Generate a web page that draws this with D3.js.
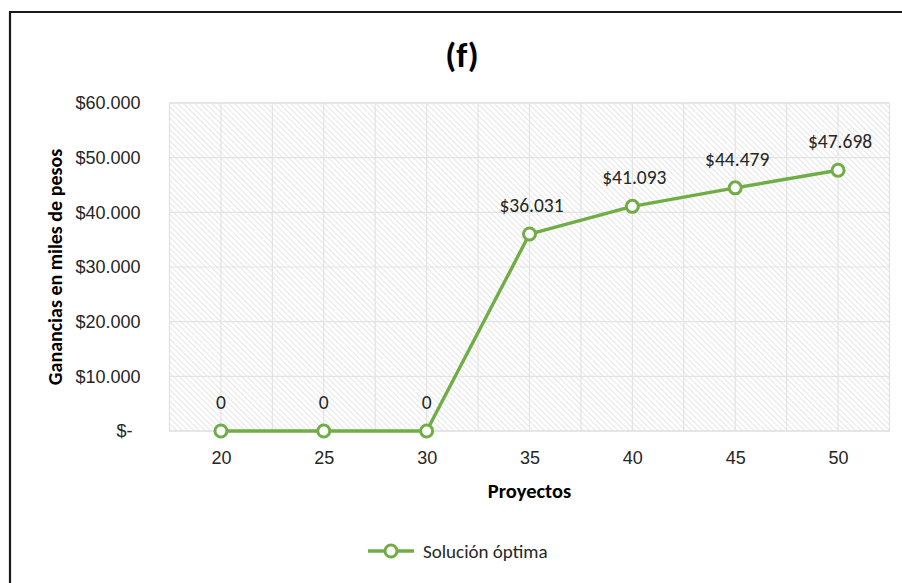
<!DOCTYPE html>
<html><head><meta charset="utf-8">
<script src="https://cdn.jsdelivr.net/npm/d3@7"></script>
<style>
body{margin:0;background:#fff;}
svg{display:block;font-family:Carlito, Calibri, Lato, "Open Sans", sans-serif;}
</style></head>
<body>
<svg id="chart" width="902" height="583"></svg>
<script>
const categories = [20, 25, 30, 35, 40, 45, 50];
const values = [0, 0, 0, 36031, 41093, 44479, 47698];
const dataLabels = ["0", "0", "0", "$36.031", "$41.093", "$44.479", "$47.698"];
const yTicks = [0, 10000, 20000, 30000, 40000, 50000, 60000];
const yTickLabels = ["$-", "$10.000", "$20.000", "$30.000", "$40.000", "$50.000", "$60.000"];
const seriesName = "Solución óptima";

(function () {
const svg = d3.select("#chart");
const green = "#70ad47";
const pLeft = 169.5, pRight = 889.5, pTop = 103, pBottom = 431;

// frame
svg.append("path").attr("d", "M10,583 L10,12 L902,12").attr("fill", "none").attr("stroke", "#1a1a1a").attr("stroke-width", 2.2);

const defs = svg.append("defs");
const pat = defs.append("pattern").attr("id", "hatch").attr("patternUnits", "userSpaceOnUse")
  .attr("width", 4).attr("height", 4).attr("patternTransform", "rotate(-45)");
pat.append("rect").attr("width", 4).attr("height", 4).attr("fill", "#ffffff");
pat.append("line").attr("x1", 0).attr("y1", 0).attr("x2", 0).attr("y2", 4).attr("stroke", "#dcdcdc").attr("stroke-width", 1.4);

const x = d3.scalePoint().domain(categories).range([pLeft, pRight]).padding(0.5);
const y = d3.scaleLinear().domain([0, 60000]).range([pBottom, pTop]);
const step = x.step();

svg.append("rect").attr("x", pLeft).attr("y", pTop).attr("width", pRight - pLeft).attr("height", pBottom - pTop)
  .attr("fill", "url(#hatch)");

// gridlines
const g = svg.append("g");
const vlines = [];
categories.forEach((c, i) => { vlines.push(x(c)); if (i < categories.length - 1) vlines.push(x(c) + step / 2); });
g.selectAll("line.v").data(vlines).join("line").attr("class", "v")
  .attr("x1", d => d).attr("x2", d => d).attr("y1", pTop).attr("y2", pBottom)
  .attr("stroke", "#e3e3e3").attr("stroke-width", 1.2);
g.selectAll("line.h").data(yTicks).join("line").attr("class", "h")
  .attr("x1", pLeft).attr("x2", pRight).attr("y1", d => y(d)).attr("y2", d => y(d))
  .attr("stroke", "#e3e3e3").attr("stroke-width", 1.2);
svg.append("rect").attr("x", pLeft).attr("y", pTop).attr("width", pRight - pLeft).attr("height", pBottom - pTop)
  .attr("fill", "none").attr("stroke", "#e0e0e0").attr("stroke-width", 1.2);

// Y axis labels
const yAxis = d3.axisLeft(y).tickValues(yTicks).tickSize(0).tickPadding(0)
  .tickFormat((d, i) => yTickLabels[i]);
const ya = svg.append("g").attr("transform", `translate(${pLeft - 29},0)`).call(yAxis);
ya.select(".domain").remove();
ya.selectAll("text").attr("font-size", 18).attr("fill", "#262626").attr("font-family", null)
  .attr("dx", (d) => d === 0 ? -8 : 0);

// X axis labels
const xAxis = d3.axisBottom(x).tickSize(0).tickPadding(0);
const xa = svg.append("g").attr("transform", `translate(0,${pBottom + 20})`).call(xAxis);
xa.select(".domain").remove();
xa.selectAll("text").attr("font-size", 18).attr("fill", "#262626").attr("font-family", null);

// line
const line = d3.line().x((d, i) => x(categories[i])).y(d => y(d));
svg.append("path").datum(values).attr("d", line).attr("fill", "none")
  .attr("stroke", green).attr("stroke-width", 3.4).attr("stroke-linejoin", "round");
svg.selectAll("circle.pt").data(values).join("circle").attr("class", "pt")
  .attr("cx", (d, i) => x(categories[i])).attr("cy", d => y(d)).attr("r", 6)
  .attr("fill", "#fff").attr("stroke", green).attr("stroke-width", 3);

// data labels
svg.selectAll("text.dl").data(values).join("text").attr("class", "dl")
  .attr("x", (d, i) => x(categories[i]) + (i >= 3 ? 2 : 0)).attr("y", d => y(d) - 22)
  .attr("text-anchor", "middle").attr("font-size", 19.5).attr("fill", "#262626")
  .text((d, i) => dataLabels[i]);

// title
svg.append("text").attr("x", 462).attr("y", 67).attr("text-anchor", "middle")
  .attr("font-size", 35).attr("font-weight", "bold").attr("fill", "#000").text("(f)");

// axis titles
svg.append("text").attr("x", (pLeft + pRight) / 2).attr("y", 498).attr("text-anchor", "middle")
  .attr("font-size", 20.5).attr("font-weight", "bold").attr("fill", "#000").text("Proyectos");
svg.append("text").attr("transform", `translate(62,${(pTop + pBottom) / 2}) rotate(-90)`)
  .attr("text-anchor", "middle").attr("font-size", 20).attr("font-weight", "bold").attr("fill", "#000")
  .text("Ganancias en miles de pesos");

// legend
const lg = svg.append("g").attr("transform", "translate(368,551)");
lg.append("line").attr("x1", 0).attr("x2", 46).attr("y1", 0).attr("y2", 0).attr("stroke", green).attr("stroke-width", 3.4);
lg.append("circle").attr("cx", 23).attr("cy", 0).attr("r", 6).attr("fill", "#fff").attr("stroke", green).attr("stroke-width", 3);
lg.append("text").attr("x", 55).attr("y", 6.5).attr("font-size", 19).attr("fill", "#262626").text(seriesName);
})();
</script>
</body></html>
